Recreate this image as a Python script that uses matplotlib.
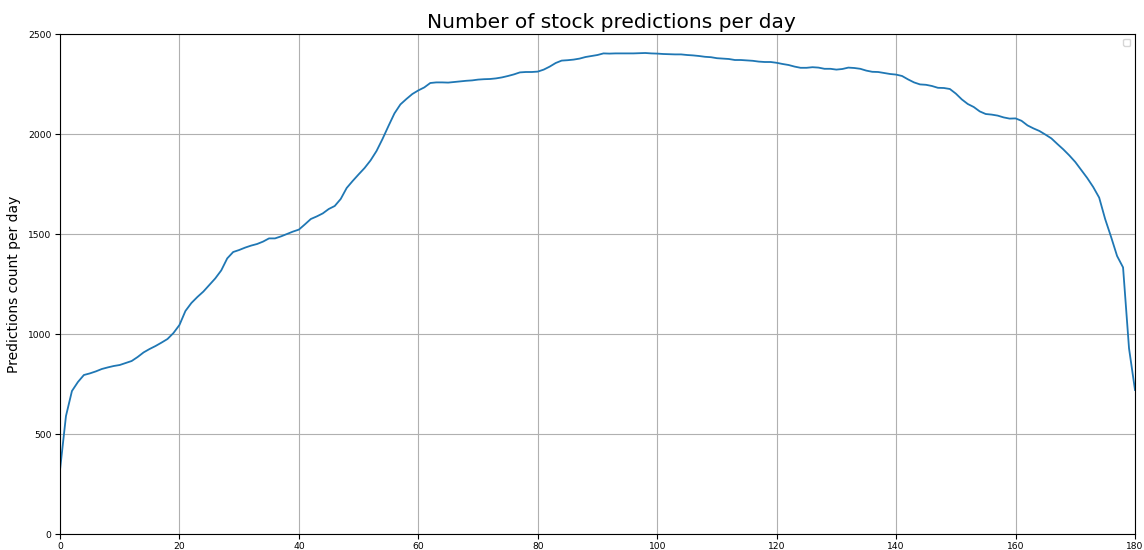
import matplotlib
matplotlib.use("Agg")
import matplotlib.pyplot as plt
import numpy as np

# Daily prediction counts, indexed by day number
predictions_per_day = [
    320, 590, 715, 760, 795, 803, 813, 825, 833, 840,
    845, 855, 865, 885, 908, 925, 940, 957, 975, 1005,
    1045, 1115, 1155, 1185, 1212, 1245, 1278, 1318, 1378, 1410,
    1420, 1432, 1442, 1450, 1462, 1478, 1478, 1488, 1500, 1512,
    1522, 1548, 1575, 1588, 1603, 1625, 1640, 1675, 1730, 1765,
    1798, 1830, 1868, 1915, 1975, 2040, 2103, 2148, 2175, 2200,
    2218, 2233, 2255, 2258, 2258, 2257, 2260, 2263, 2266, 2268,
    2272, 2274, 2275, 2278, 2283, 2290, 2298, 2308, 2310, 2310,
    2312, 2322, 2337, 2355, 2367, 2369, 2372, 2377, 2385, 2390,
    2395, 2403, 2402, 2403, 2403, 2403, 2403, 2404, 2405, 2403,
    2402, 2400, 2399, 2398, 2398, 2395, 2393, 2390, 2386, 2384,
    2379, 2377, 2375, 2370, 2370, 2368, 2366, 2362, 2360, 2360,
    2356, 2350, 2345, 2337, 2331, 2331, 2334, 2332, 2326, 2326,
    2322, 2325, 2332, 2330, 2326, 2317, 2311, 2310, 2305, 2300,
    2297, 2290, 2273, 2258, 2248, 2246, 2240, 2231, 2230, 2225,
    2202, 2173, 2150, 2135, 2113, 2100, 2097, 2092, 2083, 2077,
    2078, 2066, 2043, 2028, 2015, 1997, 1978, 1950, 1923, 1893,
    1860, 1820, 1780, 1735, 1682, 1575, 1485, 1390, 1333, 928,
    720,
]
days = np.arange(len(predictions_per_day))

fig = plt.figure(figsize=(11.44, 5.5), dpi=100)
ax = fig.add_axes([60 / 1144, 16 / 550, 1075 / 1144, 500 / 550])

ax.plot(days, predictions_per_day, color="#1f77b4", linewidth=1.3)
ax.set_xlim(0, 180)
ax.set_ylim(0, 2500)
ax.set_xticks(np.arange(0, 181, 20))
ax.set_yticks(np.arange(0, 2501, 500))
ax.tick_params(labelsize=6.6, length=3.5, pad=2.5)
ax.grid(True, color="#b0b0b0", linewidth=0.8)
ax.set_title("Number of stock predictions per day", fontsize=14.5, x=0.513, pad=4)
ax.set_ylabel("Predictions count per day", fontsize=10, labelpad=5)
ax.legend(loc="upper right", fontsize=6.5)

fig.savefig("out.png", dpi=100)
